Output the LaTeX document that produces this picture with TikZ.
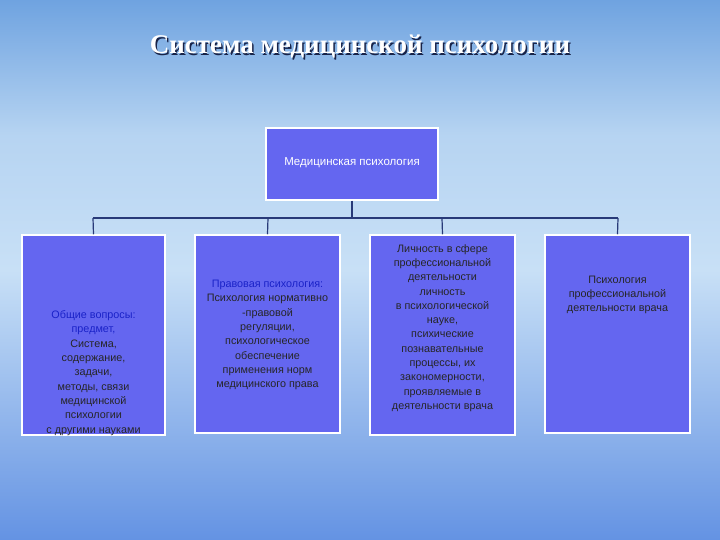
\documentclass[tikz,border=0pt]{standalone}
\usepackage{fontspec}
\setmainfont{Liberation Serif}
\newfontfamily\boxfont{Liberation Sans}
\definecolor{bg1}{HTML}{6FA3E0}
\definecolor{bg2}{HTML}{C8E0F6}
\definecolor{boxfill}{HTML}{6466F0}
\definecolor{linec}{HTML}{283A78}
\definecolor{bluetxt}{HTML}{1A22C8}
\begin{document}
\begin{tikzpicture}[x=1pt,y=-1pt,
  cbox/.style={draw=white,line width=1.5pt,fill=boxfill,minimum width=#1,inner sep=0pt},
  btxt/.style={font=\boxfont\fontsize{10.8}{14.3}\selectfont,align=center,text=black!85},
  conn/.style={draw=linec,line width=1.2pt}]
\useasboundingbox (0,0) rectangle (720,540);
\shade[top color=bg1,bottom color=bg2,middle color=bg2!80!bg1] (0,0) rectangle (720,270);
\shade[top color=bg2,bottom color=bg1!90!blue] (0,270) rectangle (720,540);
\node[text=linec!60!black,font=\fontsize{27}{30}\selectfont\bfseries] at (361.5,48.5) {Система медицинской психологии};
\node (title) [text=white,font=\fontsize{27}{30}\selectfont\bfseries] at (360,47) {Система медицинской психологии};
\node (top) [cbox=172pt,minimum height=72pt] at (352,164) {};
\node[text=white,font=\boxfont\fontsize{11.5}{13}\selectfont] at (352,163) {Медицинская психология};
\node (b1) [cbox=143pt,minimum height=200pt] at (93.5,335) {};
\node (b2) [cbox=145pt,minimum height=198pt] at (267.5,334) {};
\node (b3) [cbox=145pt,minimum height=200pt] at (442.5,335) {};
\node (b4) [cbox=145pt,minimum height=198pt] at (617.5,334) {};
\coordinate (j) at (352,218);
\draw[conn] (top.south) -- (j);
\draw[conn] (93,218) -- (618,218);
\draw[conn] (93,218) -- (b1.north);
\draw[conn] (268,218) -- (b2.north);
\draw[conn] (442,218) -- (b3.north);
\draw[conn] (618,218) -- (b4.north);
\node[btxt] at (93.5,373) {\textcolor{bluetxt}{Общие вопросы:}\\ \textcolor{bluetxt}{предмет,}\\ Система,\\ содержание,\\ задачи,\\ методы, связи\\ медицинской\\ психологии\\ с другими науками};
\node[btxt] at (267.5,335) {\textcolor{bluetxt}{Правовая психология:}\\ Психология нормативно\\ -правовой\\ регуляции,\\ психологическое\\ обеспечение\\ применения норм\\ медицинского права};
\node[btxt] at (442.5,328) {Личность в сфере\\ профессиональной\\ деятельности\\ личность\\ в психологической\\ науке,\\ психические\\ познавательные\\ процессы, их\\ закономерности,\\ проявляемые в\\ деятельности врача};
\node[btxt] at (617.5,295) {Психология\\ профессиональной\\ деятельности врача};
\end{tikzpicture}
\end{document}
